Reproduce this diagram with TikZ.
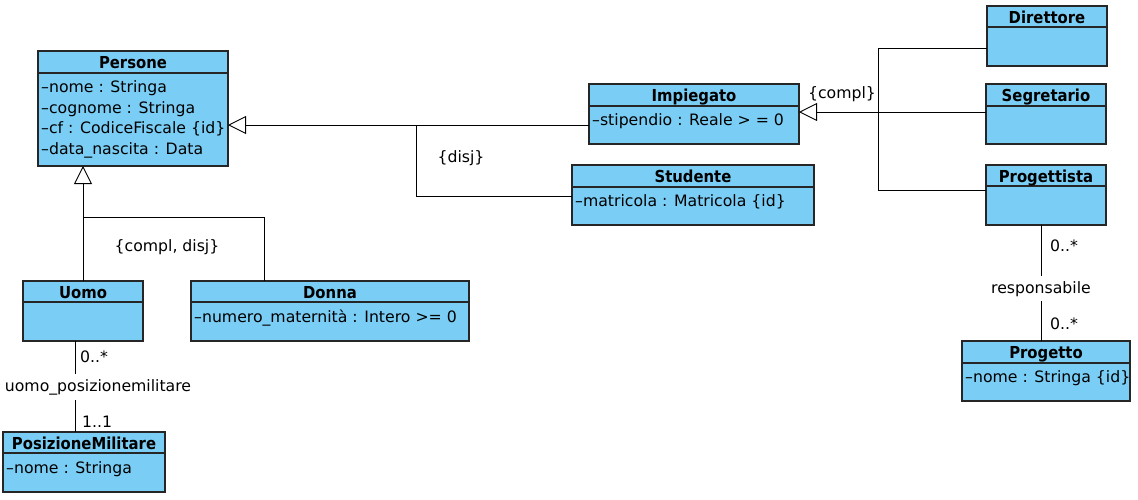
\documentclass[tikz,border=0pt]{standalone}
\usepackage{fontspec}
\setmainfont{DejaVu Sans}
\newfontfamily\ttlfont[FakeStretch=0.9]{DejaVu Sans}
\usetikzlibrary{arrows.meta,calc}
\definecolor{umlblue}{RGB}{122,206,245}
\tikzset{
  cls/.style={draw=black!85, fill=umlblue, line width=1.2pt, rectangle, anchor=north west, inner sep=0pt, outer sep=0pt},
  ttl/.style={font=\ttlfont\fontsize{16.5}{18}\selectfont\bfseries, inner sep=0pt, anchor=base},
  attr/.style={font=\fontsize{15.7}{18}\selectfont, inner sep=0pt, anchor=base west},
  lbl/.style={font=\fontsize{15.7}{18}\selectfont, inner sep=0pt},
  conn/.style={draw=black, line width=0.9pt},
  gen/.style={conn, -{Triangle[open, length=18pt, width=18pt, fill=white, line width=0.9pt]}},
}
\newcommand\umlbox[7]{% name, x, y, w, h, header height, title
  \node[cls, minimum width=#4pt, minimum height=#5pt] (#1) at (#2,#3) {};
  \draw[line width=1.2pt, black!85] ([yshift=-#6pt]#1.north west) -- ([yshift=-#6pt]#1.north east);
  \node[ttl] (#1-t) at ($(#1.north)+(0,17)$) {#7};
}
\begin{document}
\begin{tikzpicture}[x=1pt, y=-1pt]
\useasboundingbox[fill=white] (0,0) rectangle (1138,499);

% classes
\umlbox{persone}{38}{51}{190}{115}{22}{Persone}
\node[attr] (persone-a1) at ($(persone.north west)+(3,41)$) {–nome : Stringa};
\node[attr] (persone-a2) at ($(persone.north west)+(3,62)$) {–cognome : Stringa};
\node[attr] (persone-a3) at ($(persone.north west)+(3,82)$) {–cf : CodiceFiscale \{id\}};
\node[attr] (persone-a4) at ($(persone.north west)+(3,103)$) {–data\_nascita : Data};

\umlbox{uomo}{23}{281}{120}{60}{21}{Uomo}

\umlbox{donna}{191}{281}{278}{60}{21}{Donna}
\node[attr] (donna-a1) at ($(donna.north west)+(3,41)$) {–numero\_maternità : Intero >= 0};

\umlbox{posmil}{3}{432}{162}{60}{21}{PosizioneMilitare}
\node[attr] (posmil-a1) at ($(posmil.north west)+(3,41)$) {–nome : Stringa};

\umlbox{impiegato}{589}{84}{210}{60}{22}{Impiegato}
\node[attr] (impiegato-a1) at ($(impiegato.north west)+(3,41)$) {–stipendio : Reale > = 0};

\umlbox{studente}{572}{165}{242}{60}{22}{Studente}
\node[attr] (studente-a1) at ($(studente.north west)+(3,41)$) {–matricola : Matricola \{id\}};

\umlbox{direttore}{987}{6}{120}{60}{21}{Direttore}
\umlbox{segretario}{986}{84}{120}{60}{22}{Segretario}
\umlbox{progettista}{986}{165}{120}{60}{21}{Progettista}

\umlbox{progetto}{962}{341}{168}{60}{22}{Progetto}
\node[attr] (progetto-a1) at ($(progetto.north west)+(3,41)$) {–nome : Stringa \{id\}};

% generalization Persone <- Impiegato, Studente
\coordinate (j1) at (416,125);
\draw[gen] (impiegato.west |- 0,125) -- (persone.east |- 0,125);
\draw[conn] (studente.west |- 0,196) -- (416,196) -- (j1);
\node[lbl, anchor=base] (disj) at (461,162) {\{disj\}};

% generalization Persone <- Uomo, Donna
\coordinate (j2) at (83,217);
\draw[gen] (uomo.north) -- (persone.south -| uomo.north);
\draw[conn] (donna.north -| 264,0) -- (264,217) -- (j2);
\node[lbl, anchor=base] (compldisj) at (167,251) {\{compl, disj\}};

% generalization Impiegato <- Direttore, Segretario, Progettista
\coordinate (j3) at (878,112);
\draw[gen] (segretario.west |- 0,112) -- (impiegato.east |- 0,112);
\draw[conn] (direttore.west |- 0,48) -- (878,48) -- (878,190) -- (progettista.west |- 0,190);
\node[lbl, anchor=base] (compl) at (842,98) {\{compl\}};

% association uomo_posizionemilitare
\draw[conn] (uomo.south -| 75.5,0) -- (posmil.north -| 75.5,0);
\node[lbl, anchor=base, fill=white, inner xsep=1pt, inner ysep=5pt] (assoc1) at (98,391) {uomo\_posizionemilitare};
\node[lbl, anchor=base west] (m1) at (80,362) {0..*};
\node[lbl, anchor=base west] (m2) at (82,427) {1..1};

% association responsabile
\draw[conn] (progettista.south -| 1041,0) -- (progetto.north -| 1041,0);
\node[lbl, anchor=base, fill=white, inner xsep=1pt, inner ysep=5pt] (assoc2) at (1041,293) {responsabile};
\node[lbl, anchor=base west] (m3) at (1050,251) {0..*};
\node[lbl, anchor=base west] (m4) at (1050,329) {0..*};
\end{tikzpicture}
\end{document}
